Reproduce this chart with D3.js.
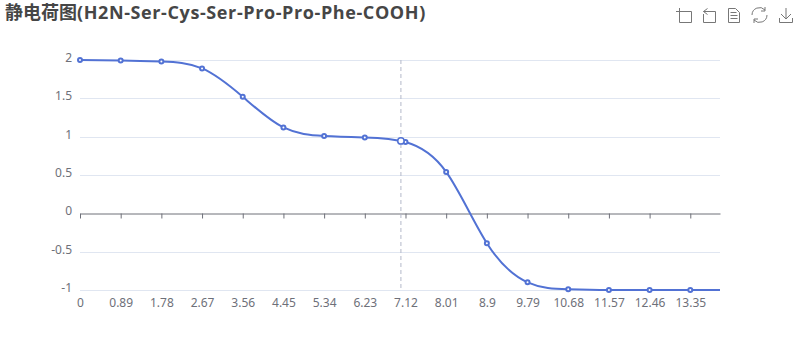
<!DOCTYPE html>
<html>
<head>
<meta charset="utf-8">
<script src="https://cdn.jsdelivr.net/npm/d3@7.9.0/dist/d3.min.js"></script>
<style>
  html, body { margin: 0; padding: 0; background: #fff; }
  svg { display: block; }
  text { font-family: "Noto Sans", "Noto Sans CJK SC", sans-serif; }
  .axis text { font-size: 12px; fill: #6E7079; }
  .title { font-family: "Open Sans", "Noto Sans CJK SC", sans-serif; font-size: 18px; font-weight: 700; fill: #464646; }
  .tool { fill: none; stroke: #777; stroke-width: 1; }
</style>
</head>
<body>
<svg id="chart" width="800" height="360"></svg>
<script>
const titleCjk = '静电荷图';
const titleLatin = '(H2N-Ser-Cys-Ser-Pro-Pro-Phe-COOH)';
const xLabels = [0, 0.89, 1.78, 2.67, 3.56, 4.45, 5.34, 6.23, 7.12, 8.01, 8.9, 9.79, 10.68, 11.57, 12.46, 13.35];
const charges = [2, 1.995, 1.98, 1.89, 1.52, 1.12, 1.01, 0.99, 0.93, 0.54, -0.39, -0.9, -0.99, -1, -1, -1];
const yTicks = [-1, -0.5, 0, 0.5, 1, 1.5, 2];
const lastX = 14;
const lastCharge = -1;
const hoverX = 7.02;
const hoverCharge = 0.945;

const width = 800;
const height = 360;
const margin = { top: 60, right: 80, bottom: 70, left: 80 };

const svg = d3.select('#chart');

const xScale = d3.scaleLinear()
  .domain([0, lastX])
  .range([margin.left, width - margin.right]);

const yScale = d3.scaleLinear()
  .domain([-1, 2])
  .range([height - margin.bottom, margin.top]);

const title = svg.append('text')
  .attr('class', 'title')
  .attr('x', 5)
  .attr('y', 19);
title.append('tspan').text(titleCjk);
title.append('tspan').attr('letter-spacing', '0.6').text(titleLatin);

// grid
svg.append('g')
  .selectAll('line')
  .data(yTicks.filter(d => d !== 0))
  .join('line')
  .attr('x1', margin.left)
  .attr('x2', width - margin.right)
  .attr('y1', d => Math.round(yScale(d)) + 0.5)
  .attr('y2', d => Math.round(yScale(d)) + 0.5)
  .attr('stroke', '#E0E6F1');

const yAxis = svg.append('g')
  .attr('class', 'axis')
  .attr('transform', `translate(${margin.left}, 0)`)
  .call(d3.axisLeft(yScale).tickValues(yTicks).tickSize(0).tickPadding(8).tickFormat(d => String(d)));
yAxis.select('.domain').remove();
yAxis.selectAll('text').attr('dy', '0.12em');

const xAxis = svg.append('g')
  .attr('class', 'axis')
  .attr('transform', `translate(0, ${Math.round(yScale(0)) + 0.5})`)
  .call(d3.axisBottom(xScale).tickValues(xLabels).tickSize(5).tickSizeOuter(0).tickFormat(d => String(d)));
xAxis.selectAll('.domain, line').attr('stroke', '#6E7079');
// labels sit under the plot, not under the zero line
xAxis.selectAll('text').attr('y', height - margin.bottom - Math.round(yScale(0)) + 8).attr('dy', '0.71em');

// hover pointer
svg.append('line')
  .attr('x1', xScale(hoverX))
  .attr('x2', xScale(hoverX))
  .attr('y1', margin.top)
  .attr('y2', height - margin.bottom)
  .attr('stroke', '#B4B8CA')
  .attr('stroke-dasharray', '4 3');

const points = xLabels.map((x, i) => ({ x, y: charges[i] }));
const linePoints = points.concat([{ x: lastX, y: lastCharge }]);

const line = d3.line()
  .x(d => xScale(d.x))
  .y(d => yScale(d.y))
  .curve(d3.curveNatural);

svg.append('path')
  .datum(linePoints)
  .attr('fill', 'none')
  .attr('stroke', '#5272D4')
  .attr('stroke-width', 2)
  .attr('d', line);

svg.append('g')
  .selectAll('circle')
  .data(points)
  .join('circle')
  .attr('cx', d => xScale(d.x))
  .attr('cy', d => yScale(d.y))
  .attr('r', 2)
  .attr('fill', '#fff')
  .attr('stroke', '#5272D4')
  .attr('stroke-width', 2);

svg.append('circle')
  .attr('cx', xScale(hoverX))
  .attr('cy', yScale(hoverCharge))
  .attr('r', 3.2)
  .attr('fill', '#fff')
  .attr('stroke', '#5272D4')
  .attr('stroke-width', 1.5);

// toolbox
const tools = svg.append('g').attr('class', 'tool');
tools.append('path').attr('d', 'M676 11.5H691.5V22.5H679.5V8');
tools.append('path').attr('d', 'M707.5 8.5L703.5 11.5L707.5 14.5M703.5 11.5H715.5V22.5H703.5V14');
tools.append('path').attr('d', 'M728.5 8.5H735.5L739.5 12.5V22.5H728.5ZM730.5 12.5H736.5M730.5 15.5H737.5M730.5 18.5H737.5');
tools.append('path').attr('d', 'M752 15A7.5 7.5 0 0 1 765 10M767 15A7.5 7.5 0 0 1 754 20M765 7V11H761M754 23V19H758');
tools.append('path').attr('d', 'M786 8V18.5M781 14L786 19L791 14M779.5 18V22.5H792.5V18');
</script>
</body>
</html>
